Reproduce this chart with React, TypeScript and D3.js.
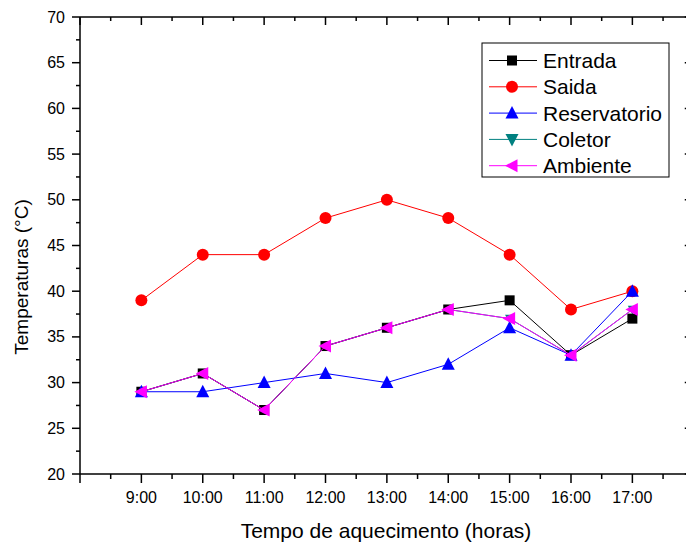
import React from "react";
import * as d3 from "d3";

const hours = [9, 10, 11, 12, 13, 14, 15, 16, 17];
const hourLabels = ["9:00", "10:00", "11:00", "12:00", "13:00", "14:00", "15:00", "16:00", "17:00"];
const entrada = [29, 31, 27, 34, 36, 38, 39, 33, 37];
const saida = [39, 44, 44, 48, 50, 48, 44, 38, 40];
const reservatorio = [29, 29, 30, 31, 30, 32, 36, 33, 40];
const coletor = [29, 31, 27, 34, 36, 38, 37, 33, 38];
const ambiente = [29, 31, 27, 34, 36, 38, 37, 33, 38];
const yMajor = [20, 25, 30, 35, 40, 45, 50, 55, 60, 65, 70];

type Series = { name: string; values: number[]; color: string; marker: string; order: number };
const series: Series[] = [
  { name: "Entrada", values: entrada, color: "#000000", marker: "square", order: 1 },
  { name: "Saida", values: saida, color: "#ff0000", marker: "circle", order: 2 },
  { name: "Reservatorio", values: reservatorio, color: "#0000ff", marker: "up", order: 3 },
  { name: "Coletor", values: coletor, color: "#008080", marker: "down", order: 0 },
  { name: "Ambiente", values: ambiente, color: "#ff00ff", marker: "left", order: 4 },
];

const W = 686;
const H = 544;
const left = 80;
const top = 17;
const bottom = 474;
const font = "'Liberation Sans', Arial, sans-serif";

const x = d3.scaleLinear().domain([8, 18]).range([left, 693.75]);
const y = d3.scaleLinear().domain([20, 70]).range([bottom, top]);

function Marker({ kind, cx, cy, color, s = 1 }: { kind: string; cx: number; cy: number; color: string; s?: number }) {
  if (kind === "square") return <rect x={cx - 5} y={cy - 5} width={10} height={10} fill={color} />;
  if (kind === "circle") return <circle cx={cx} cy={cy} r={6} fill={color} />;
  let pts: [number, number][] = [];
  if (kind === "up") pts = [[cx, cy - 7], [cx + 6.5, cy + 5.5], [cx - 6.5, cy + 5.5]];
  if (kind === "down") pts = [[cx, cy + 7 * s], [cx + 6.5 * s, cy - 5.5 * s], [cx - 6.5 * s, cy - 5.5 * s]];
  if (kind === "left") pts = [[cx - 7, cy], [cx + 5.5, cy - 6.5], [cx + 5.5, cy + 6.5]];
  return <polygon points={pts.map((p) => p.join(",")).join(" ")} fill={color} />;
}

export default function App() {
  const line = d3
    .line<number>()
    .x((_, i) => x(hours[i]))
    .y((v) => y(v));
  const xMajor = d3.range(8, 19, 1);
  const xMinor = d3.range(8.5, 18, 1);
  const yMinor = d3.range(22.5, 70, 5);
  const legY = (i: number) => 60.5 + i * 26.3;
  const drawOrder = [...series].sort((a, b) => a.order - b.order);

  return (
    <svg width={W} height={H} style={{ position: "absolute", left: 0, top: 0, background: "#fff" }}>
      <rect x={0} y={0} width={W} height={H} fill="#fff" />
      {/* frame */}
      <g stroke="#000" strokeWidth={1.5} fill="none">
        <line x1={left} x2={x(18)} y1={top} y2={top} />
        <line x1={left} x2={x(18)} y1={bottom} y2={bottom} />
        <line x1={left} x2={left} y1={top} y2={bottom} />
        <line x1={x(18)} x2={x(18)} y1={top} y2={bottom} />
        {xMajor.map((h) => (
          <g key={"xm" + h}>
            <line x1={x(h)} x2={x(h)} y1={bottom} y2={bottom + 9} />
            <line x1={x(h)} x2={x(h)} y1={top} y2={top + 8} />
          </g>
        ))}
        {xMinor.map((h) => (
          <g key={"xn" + h}>
            <line x1={x(h)} x2={x(h)} y1={bottom} y2={bottom + 5} />
            <line x1={x(h)} x2={x(h)} y1={top} y2={top + 4} />
          </g>
        ))}
        {yMajor.map((v) => (
          <g key={"ym" + v}>
            <line x1={left - 8} x2={left} y1={y(v)} y2={y(v)} />
            <line x1={x(18) - 9} x2={x(18)} y1={y(v)} y2={y(v)} />
          </g>
        ))}
        {yMinor.map((v) => (
          <g key={"yn" + v}>
            <line x1={left - 4} x2={left} y1={y(v)} y2={y(v)} />
            <line x1={x(18) - 5} x2={x(18)} y1={y(v)} y2={y(v)} />
          </g>
        ))}
      </g>
      {/* tick labels */}
      <g fontFamily={font} fontSize={16} fill="#000">
        {yMajor.map((v) => (
          <text key={"yl" + v} x={65} y={y(v)} textAnchor="end" dominantBaseline="central">
            {v}
          </text>
        ))}
        {hours.map((h, i) => (
          <text key={"xl" + h} x={x(h)} y={503} textAnchor="middle">
            {hourLabels[i]}
          </text>
        ))}
      </g>
      {/* axis titles */}
      <text x={386} y={538} textAnchor="middle" fontFamily={font} fontSize={21} fill="#000">
        Tempo de aquecimento (horas)
      </text>
      <text
        transform={`translate(28,277) rotate(-90)`}
        textAnchor="middle"
        fontFamily={font}
        fontSize={19}
        fill="#000"
      >
        Temperaturas (°C)
      </text>
      {/* series */}
      {drawOrder.map((s) => (
        <g key={s.name}>
          <path d={line(s.values) || ""} fill="none" stroke={s.color} strokeWidth={1} />
          {s.values.map((v, i) => (
            <Marker key={i} kind={s.marker} cx={x(hours[i])} cy={y(v)} color={s.color} s={0.7} />
          ))}
        </g>
      ))}
      {/* legend */}
      <rect x={482} y={43} width={187} height={134} fill="#fff" stroke="#000" strokeWidth={1} />
      {series.map((s, i) => (
        <g key={"lg" + s.name}>
          <line x1={489} x2={537} y1={legY(i)} y2={legY(i)} stroke={s.color} strokeWidth={1} />
          <Marker kind={s.marker} cx={512} cy={legY(i)} color={s.color} />
          <text x={543} y={legY(i)} dominantBaseline="central" fontFamily={font} fontSize={21} fill="#000">
            {s.name}
          </text>
        </g>
      ))}
    </svg>
  );
}
